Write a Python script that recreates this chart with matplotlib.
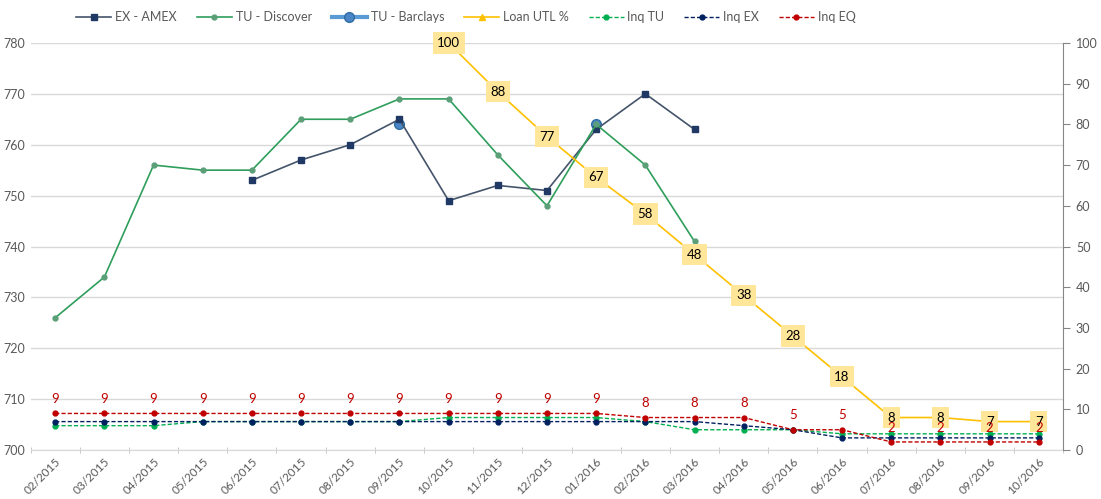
import numpy as np
import matplotlib
matplotlib.use("Agg")
import matplotlib.pyplot as plt
from matplotlib.ticker import FixedLocator

plt.rcParams['font.family'] = ['Lato', 'DejaVu Sans']

months = ['02/2015', '03/2015', '04/2015', '05/2015', '06/2015', '07/2015', '08/2015',
          '09/2015', '10/2015', '11/2015', '12/2015', '01/2016', '02/2016', '03/2016',
          '04/2016', '05/2016', '06/2016', '07/2016', '08/2016', '09/2016', '10/2016']
nan = np.nan
ex_amex = [nan, nan, nan, nan, 753, 757, 760, 765, 749, 752, 751, 763, 770, 763,
           nan, nan, nan, nan, nan, nan, nan]
tu_discover = [726, 734, 756, 755, 755, 765, 765, 769, 769, 758, 748, 764, 756, 741,
               nan, nan, nan, nan, nan, nan, nan]
tu_barclays = [nan, nan, nan, nan, nan, nan, nan, 764, nan, nan, nan, 764, nan, nan,
               nan, nan, nan, nan, nan, nan, nan]
loan_utl = [nan, nan, nan, nan, nan, nan, nan, nan, 100, 88, 77, 67, 58, 48,
            38, 28, 18, 8, 8, 7, 7]
inq_tu = [6, 6, 6, 7, 7, 7, 7, 7, 8, 8, 8, 8, 7, 5, 5, 5, 4, 4, 4, 4, 4]
inq_ex = [7, 7, 7, 7, 7, 7, 7, 7, 7, 7, 7, 7, 7, 7, 6, 5, 3, 3, 3, 3, 3]
inq_eq = [9, 9, 9, 9, 9, 9, 9, 9, 9, 9, 9, 9, 8, 8, 8, 5, 5, 2, 2, 2, 2]

x = np.arange(len(months))
grey = '#595959'

fig = plt.figure(figsize=(11.01, 4.99), dpi=100)
ax = fig.add_axes([0.0278, 0.098, 0.938, 0.816])
ax2 = ax.twinx()

ax.plot(x, tu_barclays, color='#5B9BD5', lw=3, marker='o', ms=7,
        mfc='#4A86C5', mec='#2E6DA4', label='TU - Barclays', zorder=2)
ax.plot(x, ex_amex, color='#44546A', lw=1.2, marker='s', ms=4.5,
        mfc='#1F3864', mec='#1F3864', label='EX - AMEX', zorder=3)
ax.plot(x, tu_discover, color='#2E9E5B', lw=1.2, marker='o', ms=3.5,
        mfc='#5B9F78', mec='#5B9F78', label='TU - Discover', zorder=3)

ax2.plot(x, loan_utl, color='#FFC000', lw=1.2, marker='^', ms=4,
         label='Loan UTL %', zorder=2)
ax2.plot(x, inq_tu, color='#00B050', lw=1, ls='--', dashes=(3, 1.5), marker='o', ms=3.5,
         label='Inq TU', zorder=3)
ax2.plot(x, inq_ex, color='#002060', lw=1, ls='--', dashes=(3, 1.5), marker='o', ms=3.5,
         label='Inq EX', zorder=3)
ax2.plot(x, inq_eq, color='#C00000', lw=1, ls='--', dashes=(3, 1.5), marker='o', ms=3.5,
         label='Inq EQ', zorder=3)

for xi, v in zip(x, loan_utl):
    if not np.isnan(v):
        ax2.text(xi, v, f'{v:g}', ha='center', va='center', fontsize=9.5, color='black',
                 bbox=dict(boxstyle='square,pad=0.35', fc='#FFE699', ec='none'), zorder=5)
for xi, v in zip(x, inq_eq):
    ax2.annotate(str(v), (xi, v), xytext=(0, 6), textcoords='offset points',
                 ha='center', va='bottom', fontsize=9.5, color='#C00000', zorder=6)

ax.set_xlim(-0.5, len(months) - 0.5)
ax.set_ylim(700, 780)
ax.set_yticks(np.arange(700, 781, 10))
ax2.set_ylim(0, 100)
ax2.set_yticks(np.arange(0, 101, 10))

ax.set_xticks(x)
ax.set_xticklabels(months, rotation=45, ha='right', rotation_mode='anchor')
ax.xaxis.set_minor_locator(FixedLocator(np.arange(-0.5, len(months), 1)))
ax.tick_params(axis='x', which='major', length=0, pad=4, labelsize=8.5, labelcolor=grey)
ax.tick_params(axis='x', which='minor', length=4, color='#BFBFBF', direction='inout')
ax.tick_params(axis='y', length=0, labelsize=9, labelcolor=grey, pad=4)
ax2.tick_params(axis='y', length=5, color='#868686', labelsize=9, labelcolor=grey, pad=4)

ax.grid(axis='y', color='#D9D9D9', lw=1)
ax.set_axisbelow(True)
for s in ['top', 'left', 'right']:
    ax.spines[s].set_visible(False)
for s in ['top', 'left', 'bottom']:
    ax2.spines[s].set_visible(False)
ax.spines['bottom'].set_color('#D9D9D9')
ax2.spines['right'].set_color('#868686')

h1, l1 = ax.get_legend_handles_labels()
h2, l2 = ax2.get_legend_handles_labels()
handles = dict(zip(l1 + l2, h1 + h2))
order = ['EX - AMEX', 'TU - Discover', 'TU - Barclays', 'Loan UTL %', 'Inq TU', 'Inq EX', 'Inq EQ']
fig.legend([handles[k] for k in order], order, loc='center', ncol=7, frameon=False,
           bbox_to_anchor=(466 / 1101, 1 - 17 / 499), fontsize=9, handlelength=2.8,
           handletextpad=0.3, columnspacing=1.6, labelcolor=grey)

fig.savefig('out.png', dpi=100, facecolor='white')
